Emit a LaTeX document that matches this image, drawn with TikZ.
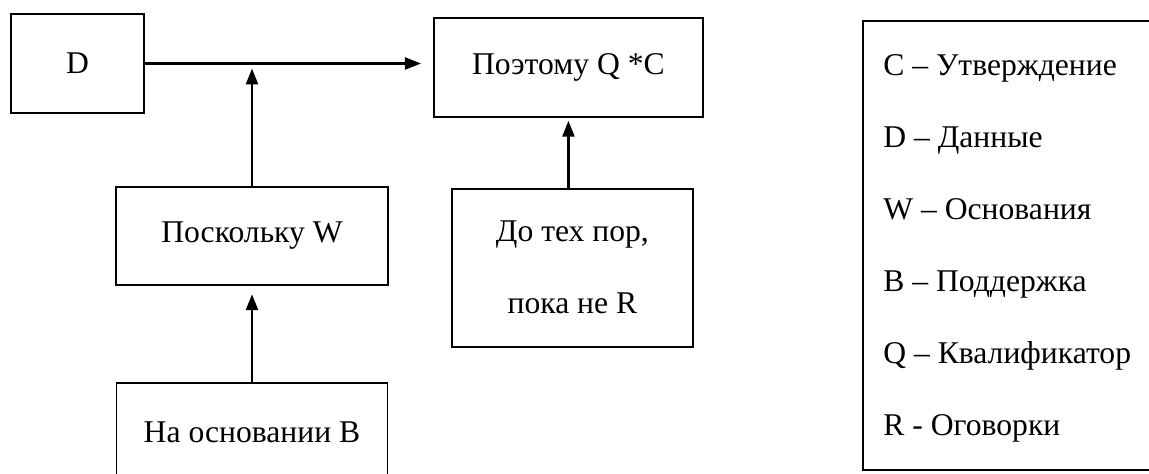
\documentclass[tikz,border=0pt]{standalone}
\usepackage{fontspec}
\setmainfont{Liberation Serif}
\usetikzlibrary{arrows.meta,positioning}

\begin{document}
\begin{tikzpicture}[node distance=1.5cm, auto, font=\fontsize{18}{22}\selectfont]
            \tikzstyle{block} = [rectangle, draw, line width=1.1pt, inner sep=0pt, minimum height=1.97cm, text centered]
            \tikzstyle{arrow} = [line width=1.4pt, -{Triangle[length=0.32cm,width=0.24cm]}]
            \tikzstyle{keyline} = [anchor=base west, inner sep=0pt]

            \useasboundingbox (0,0) rectangle (22.98,-9.48);
            \clip (0,0) rectangle (22.98,-9.48);

            \node [block, minimum width=2.66cm] (data) at (1.55,-1.27) {D};
            \node [block, minimum width=5.38cm, right=5.76cm of data, yshift=-0.08cm] (claim) {Поэтому Q *C};
            \node [block, minimum width=5.44cm] (warrant) at (5.04,-4.72) {Поскольку W};
            \node [block, minimum width=5.42cm, below=1.92cm of warrant] (backing) {На основании B};
            \node [block, minimum width=4.82cm, minimum height=3.16cm, align=center, below=1.4cm of claim, xshift=0.08cm] (rebuttal) {До тех пор,\\[19pt]пока не R};

            % legend
            \node [draw, line width=1.1pt, inner sep=0pt, minimum width=6.06cm, minimum height=8.98cm, anchor=north west] (legend) at (17.24,-0.4) {};
            \node [keyline] (keyC) at (17.66,-1.52) {C – Утверждение};
            \node [keyline] (keyD) at (17.66,-2.96) {D – Данные};
            \node [keyline] (keyW) at (17.66,-4.40) {W – Основания};
            \node [keyline] (keyB) at (17.66,-5.84) {B – Поддержка};
            \node [keyline] (keyQ) at (17.66,-7.28) {Q – Квалификатор};
            \node [keyline] (keyR) at (17.66,-8.72) {R - Оговорки};

            \coordinate (join) at (warrant.north |- data.east);

            \draw [arrow, shorten >=0.24cm] (data.east) -- (data.east -| claim.west);
            \draw [arrow, shorten >=0.1cm] (warrant.north) -- (join);
            \draw [arrow, shorten >=0.16cm] (backing.north) -- (warrant.south);
            \draw [arrow, shorten >=0.06cm] (claim.south |- rebuttal.north) -- (claim.south);
        \end{tikzpicture}
\end{document}
